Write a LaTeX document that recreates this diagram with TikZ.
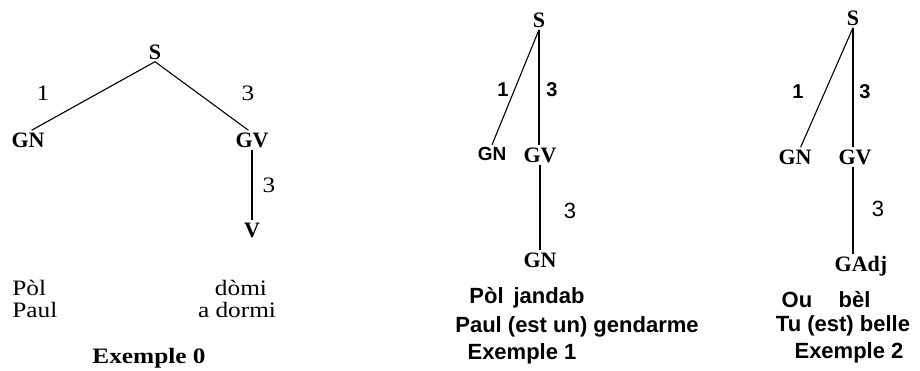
\documentclass[tikz,border=0pt]{standalone}
\usepackage{fontspec}
\setmainfont{Liberation Serif}
\setsansfont{Liberation Sans}
\newfontfamily\wideserif[FakeStretch=1.15]{Liberation Serif}
\usetikzlibrary{positioning}

\tikzset{
  cat/.style={font=\bfseries\fontsize{11}{13}\selectfont, inner sep=1pt, text height=7.3pt, text depth=0pt},
  catsf/.style={font=\sffamily\bfseries\fontsize{9.5}{11}\selectfont, inner sep=1pt, text height=6.8pt, text depth=0pt},
  num/.style={font=\wideserif\fontsize{11}{13}\selectfont, inner sep=0pt},
  numsf/.style={font=\sffamily\bfseries\fontsize{10}{12}\selectfont, inner sep=0pt},
  numthin/.style={font=\sffamily\fontsize{11}{13}\selectfont, inner sep=0pt},
  gloss/.style={font=\wideserif\fontsize{11}{13}\selectfont, inner sep=0pt},
  glosssf/.style={font=\sffamily\bfseries\fontsize{11}{13}\selectfont, inner sep=0pt},
  branch/.style={line width=0.55pt}
}

\begin{document}
\begin{tikzpicture}[x=0.5pt,y=-0.5pt]
  \useasboundingbox (0,0) rectangle (920,370);
  % Exemple 0
  \node[cat] (s0) at (155,52) {S};
  \node[cat] (gn0) at (28,140) {GN};
  \node[cat] (gv0) at (252,140) {GV};
  \node[cat] (v0) at (252,230) {V};
  \draw[branch] (s0.south) -- (gn0.70);
  \draw[branch] (s0.south) -- (gv0.110);
  \draw[branch] (gv0.south) -- (v0.north);
  \node[num] (n01) at (43,93) {1};
  \node[num] (n03) at (248,93) {3};
  \node[num] (n03b) at (269,185) {3};
  \node[gloss, anchor=west] (pol0) at (12,288) {Pòl};
  \node[gloss, anchor=west] (paul0) at (12,310) {Paul};
  \node[gloss] (domi0) at (241,288) {dòmi};
  \node[gloss] (dormi0) at (237,310) {a dormi};
  \node[gloss, font=\wideserif\bfseries\fontsize{11}{13}\selectfont] (ex0) at (149,358) {Exemple 0};

  % Exemple 1
  \node[cat] (s1) at (539,20) {S};
  \node[catsf] (gn1a) at (492,154) {GN};
  \node[cat] (gv1) at (540,155) {GV};
  \node[cat] (gn1b) at (540,260) {GN};
  \draw[branch] (s1.south) -- (gn1a.north);
  \draw[branch] (s1.south) -- (s1.south |- gv1.north);
  \draw[branch] (gv1.south) -- (gn1b.north);
  \node[numsf] (n11) at (503,90) {1};
  \node[numsf] (n13) at (552,90) {3};
  \node[numthin] (n13b) at (570,211) {3};
  \node[glosssf] (pol1) at (527,298) {Pòl\hspace{0.45em}jandab};
  \node[glosssf] (paul1) at (577,327) {Paul (est un) gendarme};
  \node[glosssf] (ex1) at (522,354) {Exemple 1};

  % Exemple 2
  \node[cat] (s2) at (853,18) {S};
  \node[cat] (gn2) at (795,157) {GN};
  \node[cat] (gv2) at (855,157) {GV};
  \node[cat] (gadj) at (861,264) {GAdj};
  \draw[branch] (s2.south) -- (gn2.60);
  \draw[branch] (s2.south) -- (s2.south |- gv2.north);
  \draw[branch] (gv2.south -| s2.south) -- (s2.south |- gadj.north);
  \node[numsf] (n21) at (798,92) {1};
  \node[numsf] (n23) at (865,92) {3};
  \node[numthin] (n23b) at (878,209) {3};
  \node[glosssf] (ou2) at (826,300) {Ou\hspace{1.2em}bèl};
  \node[glosssf] (tu2) at (843,326) {Tu (est) belle};
  \node[glosssf] (ex2) at (849,353) {Exemple 2};
\end{tikzpicture}
\end{document}
